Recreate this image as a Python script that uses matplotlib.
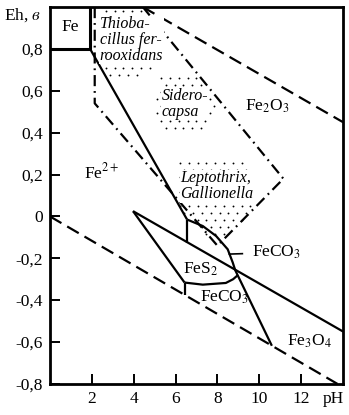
import numpy as np
import matplotlib.pyplot as plt
from matplotlib.path import Path

plt.rcParams['font.family'] = ['Liberation Serif', 'DejaVu Serif']
plt.rcParams['mathtext.fontset'] = 'stix'

# Eh-pH field boundaries (pH, Eh in volts)
fe_box_ph = [0.0, 1.92, 1.92]
fe_box_eh = [0.8, 0.8, 1.0]

ferric_ph = [1.92, 6.55]
ferric_eh = [0.8, -0.015]

siderite_arc_ph = [6.55, 7.3, 7.94, 8.49, 8.73, 8.85, 10.6]
siderite_arc_eh = [-0.015, -0.046, -0.094, -0.157, -0.22, -0.257, -0.618]

pyrite_top_ph = [3.97, 14.0]
pyrite_top_eh = [0.025, -0.55]
pyrite_left_ph = [3.97, 6.43]
pyrite_left_eh = [0.025, -0.316]
pyrite_base_ph = [6.43, 7.3, 8.4, 8.75, 8.97]
pyrite_base_eh = [-0.316, -0.326, -0.318, -0.30, -0.281]

upper_step_ph = [6.55, 6.55]
upper_step_eh = [-0.015, -0.125]
lower_step_ph = [6.43, 6.43]
lower_step_eh = [-0.316, -0.375]

water_top_ph = [4.44, 14.0]
water_top_eh = [1.0, 0.45]
water_bottom_ph = [0.0, 13.73]
water_bottom_eh = [0.0, -0.8]

# limits of iron bacteria activity
bacteria_ph = [2.14, 2.14, 8.0, 11.15, 4.44]
bacteria_eh = [1.0, 0.54, -0.14, 0.18, 1.0]

# stippled zones of the three bacteria groups
thio_zone = [(2.3, 0.99), (4.4, 0.99), (5.0, 0.86), (4.8, 0.7), (3.8, 0.64),
             (2.6, 0.65), (2.25, 0.8)]
sidero_zone = [(5.3, 0.67), (7.3, 0.67), (7.9, 0.55), (7.6, 0.42), (6.3, 0.39),
               (5.1, 0.43), (4.9, 0.55)]
lepto_zone = [(6.0, 0.26), (9.4, 0.26), (9.6, 0.03), (8.3, -0.12), (7.5, -0.1),
              (6.7, -0.02), (6.05, 0.06)]

yticks = [-0.8, -0.6, -0.4, -0.2, 0.0, 0.2, 0.4, 0.6, 0.8]
ytick_labels = ['-0,8', '-0,6', '-0,4', '-0,2', '0', '0,2', '0,4', '0,6', '0,8']
xticks = [2, 4, 6, 8, 10, 12]

fig = plt.figure(figsize=(3.49, 4.15), dpi=100)
ax = fig.add_axes([0.143, 0.075, 0.84, 0.908])
ax.set_xlim(0, 14)
ax.set_ylim(-0.8, 1.0)


def stipple(zone, dx=0.42, dy=0.034):
    path = Path(zone + [zone[0]], closed=True)
    xs, ys = zip(*zone)
    pts = []
    for i, y in enumerate(np.arange(min(ys), max(ys), dy)):
        shift = dx / 2 if i % 2 else 0.0
        for x in np.arange(min(xs) + shift, max(xs), dx):
            if path.contains_point((x, y)):
                pts.append((x, y))
    pts = np.array(pts)
    ax.scatter(pts[:, 0], pts[:, 1], s=1.8, color='black', linewidths=0, zorder=1)


for zone in (thio_zone, sidero_zone, lepto_zone):
    stipple(zone)

solid = dict(color='black', lw=1.6, solid_capstyle='butt')
ax.plot(fe_box_ph, fe_box_eh, color='black', lw=2.2)
ax.plot(ferric_ph, ferric_eh, **solid)
ax.plot(siderite_arc_ph, siderite_arc_eh, **solid)
ax.plot(pyrite_top_ph, pyrite_top_eh, **solid)
ax.plot(pyrite_left_ph, pyrite_left_eh, **solid)
ax.plot(pyrite_base_ph, pyrite_base_eh, **solid)
ax.plot(upper_step_ph, upper_step_eh, **solid)
ax.plot(lower_step_ph, lower_step_eh, **solid)

ax.plot(water_top_ph, water_top_eh, color='black', lw=1.6, linestyle=(0, (6, 3)))
ax.plot(water_bottom_ph, water_bottom_eh, color='black', lw=1.6, linestyle=(0, (6, 3)))
ax.plot(bacteria_ph, bacteria_eh, color='black', lw=1.6, linestyle=(0, (5, 2.2, 0.8, 2.2)))

# phase labels
big = 12.5
ax.text(0.95, 0.905, 'Fe', ha='center', va='center', fontsize=big)
ax.text(2.45, 0.21, 'Fe$^{2+}$', ha='center', va='center', fontsize=big)
ax.text(10.4, 0.524, 'Fe$_2$O$_3$', ha='center', va='center', fontsize=big)
ax.text(7.2, -0.252, 'FeS$_2$', ha='center', va='center', fontsize=big)
ax.text(8.33, -0.386, 'FeCO$_3$', ha='center', va='center', fontsize=big)
ax.text(9.65, -0.171, 'FeCO$_3$', ha='left', va='center', fontsize=big)
ax.text(12.4, -0.595, 'Fe$_3$O$_4$', ha='center', va='center', fontsize=big)
ax.plot([8.57, 9.19], [-0.18, -0.178], color='black', lw=1.2)

box = dict(facecolor='white', edgecolor='none', pad=0.2)
ax.text(2.38, 0.843, 'Thioba-\ncillus fer-\nrooxidans', ha='left', va='center',
        style='italic', fontsize=11.5, linespacing=1.0, bbox=box, zorder=2)
ax.text(5.33, 0.538, 'Sidero-\ncapsa', ha='left', va='center',
        style='italic', fontsize=11.5, linespacing=1.0, bbox=box, zorder=2)
ax.text(6.24, 0.143, 'Leptothrix,\nGallionella', ha='left', va='center',
        style='italic', fontsize=11.5, linespacing=1.0, bbox=box, zorder=2)

ax.set_yticks(yticks)
ax.set_yticklabels(ytick_labels)
ax.set_xticks(xticks)
ax.tick_params(direction='in', length=7, width=1.4, labelsize=12.5, pad=5)
for s in ax.spines.values():
    s.set_linewidth(2.0)

ax.text(-0.42, 0.962, 'Eh, $\\mathit{в}$', ha='right', va='center', fontsize=12.5)
ax.annotate('pH', xy=(13.55, -0.8), xytext=(0, -5), textcoords='offset points',
            ha='center', va='top', fontsize=12.5, annotation_clip=False)

fig.savefig('out.png', dpi=100)
